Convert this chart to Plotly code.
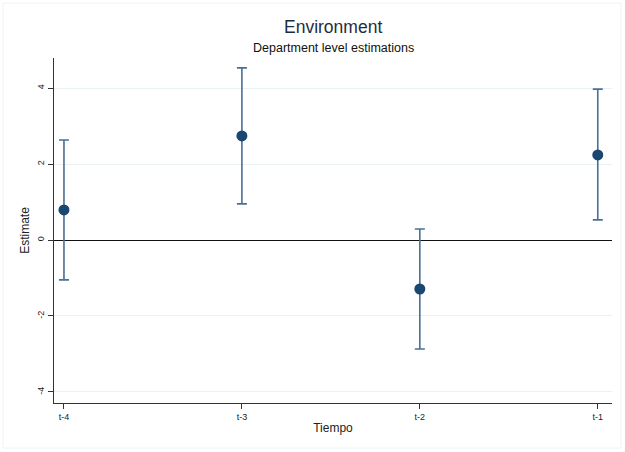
import plotly.graph_objects as go

categories = ["t-4", "t-3", "t-2", "t-1"]
estimates = [0.79, 2.74, -1.29, 2.24]
ci_upper = [2.63, 4.53, 0.29, 3.97]
ci_lower = [-1.05, 0.95, -2.87, 0.53]
y_ticks = [-4, -2, 0, 2, 4]

xpos = list(range(len(categories)))
err_plus = [u - e for u, e in zip(ci_upper, estimates)]
err_minus = [e - l for e, l in zip(estimates, ci_lower)]

fig = go.Figure()
fig.add_trace(go.Scatter(
    x=xpos, y=estimates, mode="markers",
    marker=dict(color="#1a476f", size=11),
    error_y=dict(type="data", symmetric=False, array=err_plus, arrayminus=err_minus,
                 color="#4a6f98", thickness=1.6, width=5),
    showlegend=False,
))

W, H = 625, 452
L, R, T, B = 54, 13, 58, 49

fig.update_layout(
    width=W, height=H,
    margin=dict(l=L, r=R, t=T, b=B),
    paper_bgcolor="white", plot_bgcolor="white",
    font=dict(family="Liberation Sans, Arial, sans-serif", color="#222"),
    xaxis=dict(
        range=[-0.056, 3.08], tickvals=xpos, ticktext=categories,
        showgrid=False, zeroline=False, showline=True, linecolor="#333", linewidth=1.2,
        ticks="outside", ticklen=5, tickcolor="#333", tickfont=dict(size=9, color="#222"),
        title=dict(text="Tiempo", font=dict(size=12, color="#222"), standoff=2),
    ),
    yaxis=dict(
        range=[-4.29, 4.79], tickvals=y_ticks, ticktext=[str(v) for v in y_ticks],
        tickangle=-90,
        showgrid=True, gridcolor="#eaf1f3", gridwidth=1,
        zeroline=True, zerolinecolor="#111", zerolinewidth=1.3,
        showline=True, linecolor="#333", linewidth=1.2,
        ticks="outside", ticklen=5, tickcolor="#333", tickfont=dict(size=9, color="#222"),
        title=dict(text="Estimate", font=dict(size=12, color="#222"), standoff=4),
    ),
    annotations=[
        dict(text="Environment", x=0.5, y=27, xref="paper", yref="paper", showarrow=False,
             font=dict(size=17.5, color="#1e2d3e")),
        dict(text="Department level estimations", x=0.5, y=48, xref="paper", yref="paper",
             showarrow=False, font=dict(size=12.5, color="#111")),
    ],
)

plot_w = W - L - R
plot_h = H - T - B
for ann in fig.layout.annotations:
    ann.y = (H - B - ann.y) / plot_h
    ann.yanchor = "middle"
    ann.xanchor = "center"

fig.add_shape(type="rect", xref="paper", yref="paper",
              x0=(3 - L) / plot_w, x1=(W - 4 - L) / plot_w,
              y0=(H - B - (H - 4)) / plot_h, y1=(H - B - 3) / plot_h,
              line=dict(color="#eef2f4", width=1), layer="below")

fig.write_html("out.html")
